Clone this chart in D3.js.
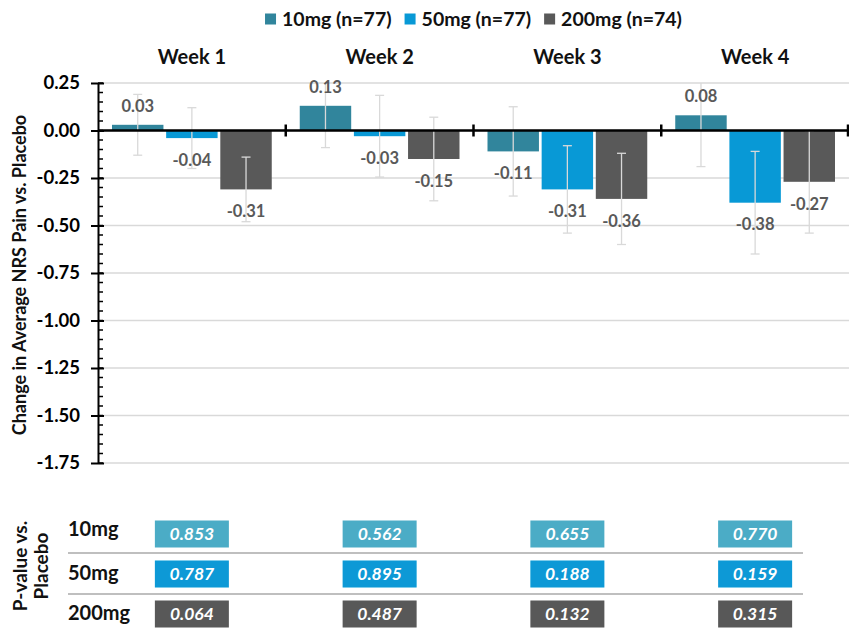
<!DOCTYPE html>
<html>
<head>
<meta charset="utf-8">
<script src="https://cdn.jsdelivr.net/npm/d3@7/dist/d3.min.js"></script>
<style>
  html, body { margin: 0; padding: 0; background: #fff; }
  svg { display: block; font-family: Lato, "Open Sans", sans-serif; }
</style>
</head>
<body>
<svg id="chart" width="849" height="628"></svg>
<script>
// Weekly change in average NRS pain vs. placebo, by dose
const weeks = ["Week 1", "Week 2", "Week 3", "Week 4"];
const doses = ["10mg", "50mg", "200mg"];
const legendLabels = ["10mg (n=77)", "50mg (n=77)", "200mg (n=74)"];
const values10 = [0.03, 0.13, -0.11, 0.08];
const values50 = [-0.04, -0.03, -0.31, -0.38];
const values200 = [-0.31, -0.15, -0.36, -0.27];
// half-width of the error bars
const err10 = [0.16, 0.22, 0.235, 0.27];
const err50 = [0.16, 0.215, 0.23, 0.27];
const err200 = [0.17, 0.22, 0.24, 0.27];
// p-values vs. placebo
const p10 = ["0.853", "0.562", "0.655", "0.770"];
const p50 = ["0.787", "0.895", "0.188", "0.159"];
const p200 = ["0.064", "0.487", "0.132", "0.315"];
const yTicks = [0.25, 0, -0.25, -0.5, -0.75, -1.0, -1.25, -1.5, -1.75];

const barColors = ["#31859c", "#0899d6", "#595959"];
const boxColors = ["#4bacc6", "#0899d6", "#595959"];

const series = [
  { dose: doses[0], values: values10, err: err10, p: p10 },
  { dose: doses[1], values: values50, err: err50, p: p50 },
  { dose: doses[2], values: values200, err: err200, p: p200 }
];

// two decimals with a plain hyphen for negatives
const locale = d3.formatLocale({ decimal: ".", thousands: ",", grouping: [3], currency: ["", ""], minus: "-" });
const fmt = locale.format(".2f");

const svg = d3.select("#chart");
const plotL = 98, plotR = 849, plotT = 83, plotB = 463;

const x = d3.scaleBand().domain(weeks).range([plotL, plotR]).padding(0);
const xi = d3.scaleBand().domain(doses)
  .range([14, x.bandwidth() - 14]).paddingInner(0.05);
const y = d3.scaleLinear().domain([-1.75, 0.25]).range([plotB, plotT]);

// defs: soft edge for the p-value boxes, clip for error bars
const defs = svg.append("defs");
defs.append("filter").attr("id", "soft")
  .attr("x", "-10%").attr("y", "-20%").attr("width", "120%").attr("height", "140%")
  .append("feGaussianBlur").attr("stdDeviation", 0.7);
defs.append("clipPath").attr("id", "plotClip")
  .append("rect").attr("x", plotL).attr("y", y(0.25)).attr("width", plotR - plotL).attr("height", plotB - plotT);

// gridlines
svg.append("g").selectAll("line").data(yTicks).join("line")
  .attr("x1", plotL + 4).attr("x2", plotR)
  .attr("y1", d => y(d)).attr("y2", d => y(d))
  .attr("stroke", "#d9d9d9").attr("stroke-width", 1.5);

// bars
const groups = svg.append("g").selectAll("g").data(series).join("g")
  .attr("fill", (d, i) => barColors[i]);
groups.selectAll("rect").data(s => s.values.map((v, j) => ({ v, week: weeks[j], dose: s.dose })))
  .join("rect")
  .attr("x", d => x(d.week) + xi(d.dose))
  .attr("width", xi.bandwidth())
  .attr("y", d => y(Math.max(0, d.v)))
  .attr("height", d => Math.abs(y(d.v) - y(0)));

// error bars
const errG = svg.append("g").attr("clip-path", "url(#plotClip)")
  .attr("stroke", "#d9d9d9").attr("stroke-width", 1.3);
series.forEach(s => {
  s.values.forEach((v, j) => {
    const cx = x(weeks[j]) + xi(s.dose) + xi.bandwidth() / 2;
    const hi = v + s.err[j], lo = v - s.err[j];
    errG.append("line").attr("x1", cx).attr("x2", cx).attr("y1", y(hi)).attr("y2", y(lo));
    [hi, lo].forEach(e => {
      errG.append("line").attr("x1", cx - 4.5).attr("x2", cx + 4.5).attr("y1", y(e)).attr("y2", y(e));
    });
  });
});

// y axis with minor ticks
const minor = d3.range(0, 41).map(k => 0.25 - k * 0.05);
svg.append("g").selectAll("line").data(minor).join("line")
  .attr("x1", plotL).attr("x2", plotL + 5)
  .attr("y1", d => y(d)).attr("y2", d => y(d))
  .attr("stroke", "#000").attr("stroke-width", 1.5);
const yAxis = svg.append("g").attr("transform", `translate(${plotL},0)`)
  .call(d3.axisLeft(y).tickValues(yTicks).tickFormat(fmt).tickSizeInner(7).tickSizeOuter(0));
yAxis.select(".domain").attr("stroke", "#000").attr("stroke-width", 2);
yAxis.selectAll(".tick line").attr("stroke", "#000").attr("stroke-width", 2).attr("x2", -7).attr("x1", 6);
yAxis.selectAll(".tick text").attr("x", -18)
  .attr("font-size", 18.5).attr("font-weight", 700).attr("fill", "#000")
  .attr("font-family", "Lato, sans-serif");

// zero line with week separators
svg.append("line").attr("x1", plotL).attr("x2", plotR).attr("y1", y(0)).attr("y2", y(0))
  .attr("stroke", "#000").attr("stroke-width", 2.5);
svg.append("g").selectAll("line").data(weeks.slice(1).map(w => x(w)).concat([plotR - 1]))
  .join("line")
  .attr("x1", d => d).attr("x2", d => d)
  .attr("y1", y(0) - 6).attr("y2", y(0) + 6)
  .attr("stroke", "#000").attr("stroke-width", 2.5);

// value labels
series.forEach(s => {
  svg.append("g").selectAll("text").data(s.values.map((v, j) => ({ v, week: weeks[j] })))
    .join("text")
    .attr("x", d => x(d.week) + xi(s.dose) + xi.bandwidth() / 2)
    .attr("y", d => d.v >= 0 ? y(d.v) - 19 : y(d.v) + 22)
    .attr("dy", "0.35em")
    .attr("text-anchor", "middle")
    .attr("font-size", 16.5).attr("font-weight", 700).attr("fill", "#595959")
    .text(d => fmt(d.v));
});

// week titles
svg.append("g").selectAll("text").data(weeks).join("text")
  .attr("x", d => x(d) + x.bandwidth() / 2)
  .attr("y", 57).attr("dy", "0.35em")
  .attr("text-anchor", "middle")
  .attr("font-size", 20).attr("font-weight", 700).attr("fill", "#111")
  .text(d => d);

// y axis title
svg.append("text")
  .attr("transform", `translate(20,${(plotT + plotB) / 2 + 2}) rotate(-90)`)
  .attr("text-anchor", "middle").attr("dy", "0.35em")
  .attr("font-size", 18).attr("font-weight", 700).attr("fill", "#111")
  .text("Change in Average NRS Pain vs. Placebo");

// legend
const legend = svg.append("g");
let lx = 0;
legendLabels.forEach((lab, i) => {
  const g = legend.append("g").attr("transform", `translate(${lx},0)`);
  g.append("rect").attr("x", 0).attr("y", -5.5).attr("width", 11).attr("height", 11).attr("fill", barColors[i]);
  const t = g.append("text").attr("x", 17).attr("dy", "0.35em")
    .attr("font-size", 19.5).attr("font-weight", 700).attr("fill", "#111").text(lab);
  lx += 17 + t.node().getComputedTextLength() + 13;
});
const legendW = lx - 13;
legend.attr("transform", `translate(${(plotL + plotR) / 2 - legendW / 2},19)`);

// p-value table
const rowY = d3.scalePoint().domain(doses).range([534, 614]);
svg.append("g").selectAll("line").data([553, 594]).join("line")
  .attr("x1", 68).attr("x2", 803).attr("y1", d => d).attr("y2", d => d)
  .attr("stroke", "#bfbfbf").attr("stroke-width", 2);
svg.append("g").selectAll("text").data(doses).join("text")
  .attr("x", 68).attr("y", d => rowY(d) - (d === "10mg" ? 5 : 1))
  .attr("dy", "0.35em")
  .attr("font-size", 20).attr("font-weight", 700).attr("fill", "#111")
  .text(d => d);
const ptitle = svg.append("text")
  .attr("transform", `translate(31,566) rotate(-90)`)
  .attr("text-anchor", "middle")
  .attr("font-size", 19).attr("font-weight", 700).attr("fill", "#111");
ptitle.append("tspan").attr("x", 0).attr("y", -4).text("P-value vs.");
ptitle.append("tspan").attr("x", 0).attr("y", 17).text("Placebo");

series.forEach((s, i) => {
  const g = svg.append("g");
  const cells = g.selectAll("g").data(s.p.map((p, j) => ({ p, week: weeks[j] }))).join("g")
    .attr("transform", d => `translate(${x(d.week) + x.bandwidth() / 2},${rowY(s.dose)})`);
  cells.append("rect")
    .attr("x", -37).attr("y", -13.5).attr("width", 74).attr("height", 27)
    .attr("fill", boxColors[i]).attr("filter", "url(#soft)");
  cells.append("text")
    .attr("text-anchor", "middle").attr("dy", "0.36em")
    .attr("font-size", 17.5).attr("font-weight", 700).attr("font-style", "italic")
    .attr("fill", "#fff")
    .text(d => d.p);
});
</script>
</body>
</html>
